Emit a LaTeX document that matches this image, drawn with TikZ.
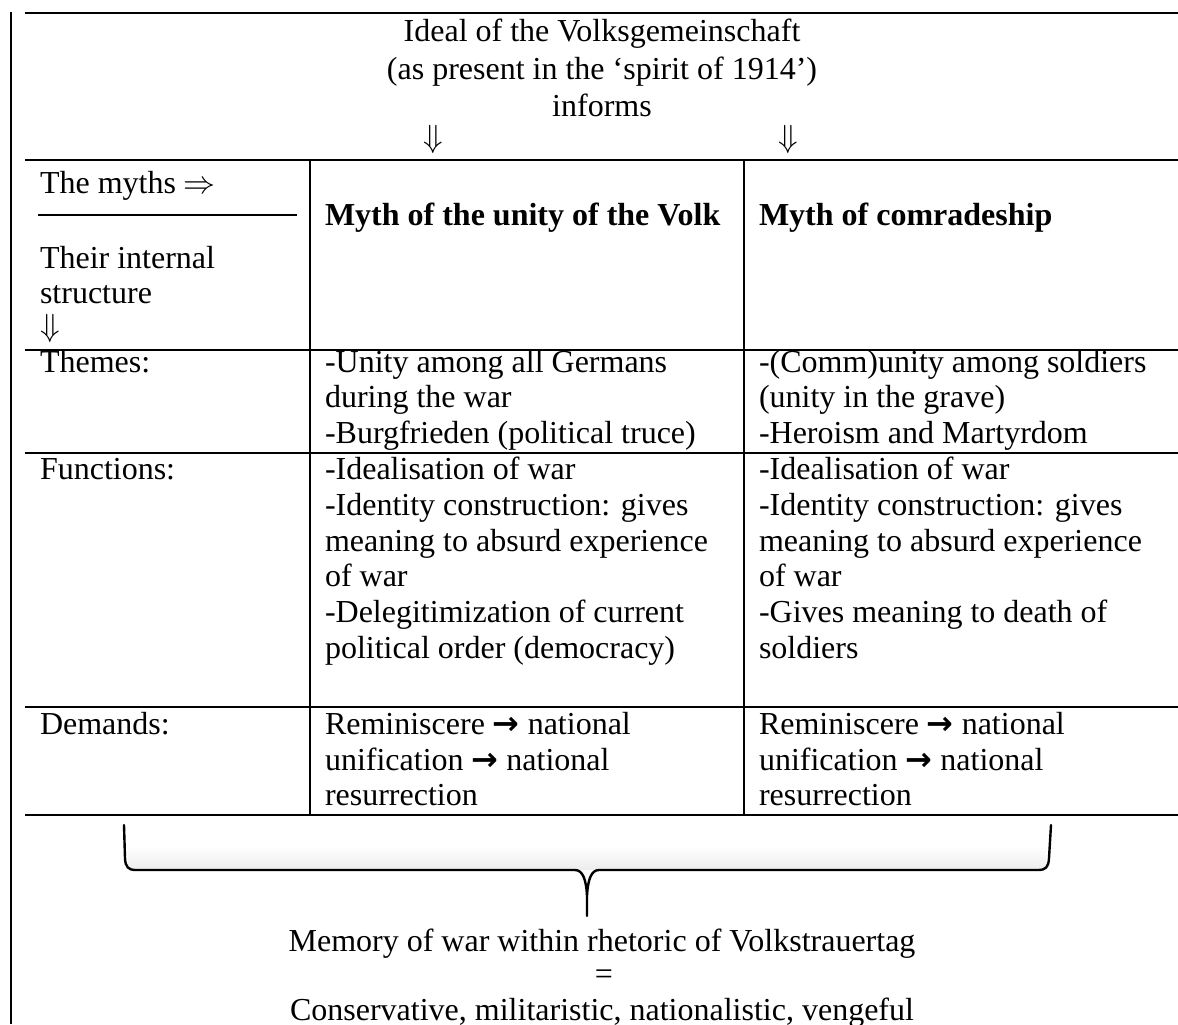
\documentclass[tikz,border=0pt]{standalone}
\usepackage{fontspec}
\setmainfont{Liberation Serif}
\newfontfamily\arrowfont{DejaVu Sans}
\newcommand{\barrow}{{\arrowfont\bfseries\fontsize{12}{14}\selectfont →}}
\begin{document}
\begin{tikzpicture}[x=0.375pt,y=-0.375pt,
  every node/.style={font=\fontsize{12}{14}\selectfont, inner sep=0pt, outer sep=0pt},
  cell/.style={anchor=base west},
  ctr/.style={anchor=base},
  rule/.style={line width=0.75pt},
  thin rule/.style={line width=0.45pt},
  brace/.style={line width=0.9pt, line join=round, line cap=round}]
\useasboundingbox (0,0) rectangle (1178,1024);
\fill[white] (0,0) rectangle (1178,1024);

% ---- frame and table rules
\draw[rule] (11,12) -- (11,1024);
\draw[rule] (25,13) -- (1178,13);
\draw[rule] (25,160) -- (1178,160);
\draw[rule] (25,350) -- (1178,350);
\draw[rule] (25,452.5) -- (1178,452.5);
\draw[rule] (25,706.5) -- (1178,706.5);
\draw[rule] (25,815) -- (1178,815);
\draw[rule] (310,160) -- (310,815);
\draw[rule] (743.5,160) -- (743.5,815);
\draw[thin rule] (38,215) -- (297,215);

% ---- top section
\node[ctr] (ideal) at (602,41.5) {Ideal of the Volksgemeinschaft};
\node[ctr] (aspresent) at (602,79) {(as present in the ‘spirit of 1914’)};
\node[ctr] (informs) at (602,116) {informs};
\node (arrA) at (433,139) {$\Downarrow$};
\node (arrB) at (788,139) {$\Downarrow$};

% ---- header row
\node[cell] (myths) at (40,193) {The myths $\Rightarrow$};
\node[cell] (their) at (40,268) {Their internal};
\node[cell] (structure) at (40,303) {structure};
\node[anchor=west] (darr) at (40,328) {$\Downarrow$};
\node[cell] (hVolk) at (325,225) {\bfseries Myth of the unity of the Volk};
\node[cell] (hComr) at (759,225) {\bfseries Myth of comradeship};

% ---- themes row
\node[cell] (themes) at (40,372) {Themes:};
\node[cell] (tA1) at (325,372) {-Unity among all Germans};
\node[cell] (tA2) at (325,407.5) {during the war};
\node[cell] (tA3) at (325,443) {-Burgfrieden (political truce)};
\node[cell] (tB1) at (759,372) {-(Comm)unity among soldiers};
\node[cell] (tB2) at (759,407.5) {(unity in the grave)};
\node[cell] (tB3) at (759,443) {-Heroism and Martyrdom};

% ---- functions row
\node[cell] (functions) at (40,479.5) {Functions:};
\node[cell] (fA1) at (325,479.5) {-Idealisation of war};
\node[cell] (fA2) at (325,515.3) {-Identity construction: gives};
\node[cell] (fA3) at (325,551.1) {meaning to absurd experience};
\node[cell] (fA4) at (325,586.9) {of war};
\node[cell] (fA5) at (325,622.7) {-Delegitimization of current};
\node[cell] (fA6) at (325,658.5) {political order (democracy)};
\node[cell] (fB1) at (759,479.5) {-Idealisation of war};
\node[cell] (fB2) at (759,515.3) {-Identity construction: gives};
\node[cell] (fB3) at (759,551.1) {meaning to absurd experience};
\node[cell] (fB4) at (759,586.9) {of war};
\node[cell] (fB5) at (759,622.7) {-Gives meaning to death of};
\node[cell] (fB6) at (759,658.5) {soldiers};

% ---- demands row
\node[cell] (demands) at (40,734.5) {Demands:};
\node[cell] (dA1) at (325,734.5) {Reminiscere \barrow{} national};
\node[cell] (dA2) at (325,770.2) {unification \barrow{} national};
\node[cell] (dA3) at (325,805.5) {resurrection};
\node[cell] (dB1) at (759,734.5) {Reminiscere \barrow{} national};
\node[cell] (dB2) at (759,770.2) {unification \barrow{} national};
\node[cell] (dB3) at (759,805.5) {resurrection};

% ---- brace with faint shadow
\shade[top color=white, bottom color=black!7] (128,846) rectangle (1046,869);
\draw[brace] (124,825) -- (125,858) .. controls (125.5,867) and (128,870) .. (136,870)
  -- (575,870) .. controls (583,870) and (586,880) .. (587,895) -- (587,916);
\draw[brace] (587,895) .. controls (588,880) and (591,870) .. (599,870)
  -- (1038,870) .. controls (1046,870) and (1048.5,867) .. (1049,858) -- (1051,825);

% ---- conclusion
\node[ctr] (memory) at (602,951.5) {Memory of war within rhetoric of Volkstrauertag};
\node (equals) at (604,977) {=};
\node[ctr] (conserv) at (602,1020.5) {Conservative, militaristic, nationalistic, vengeful};
\end{tikzpicture}
\end{document}
